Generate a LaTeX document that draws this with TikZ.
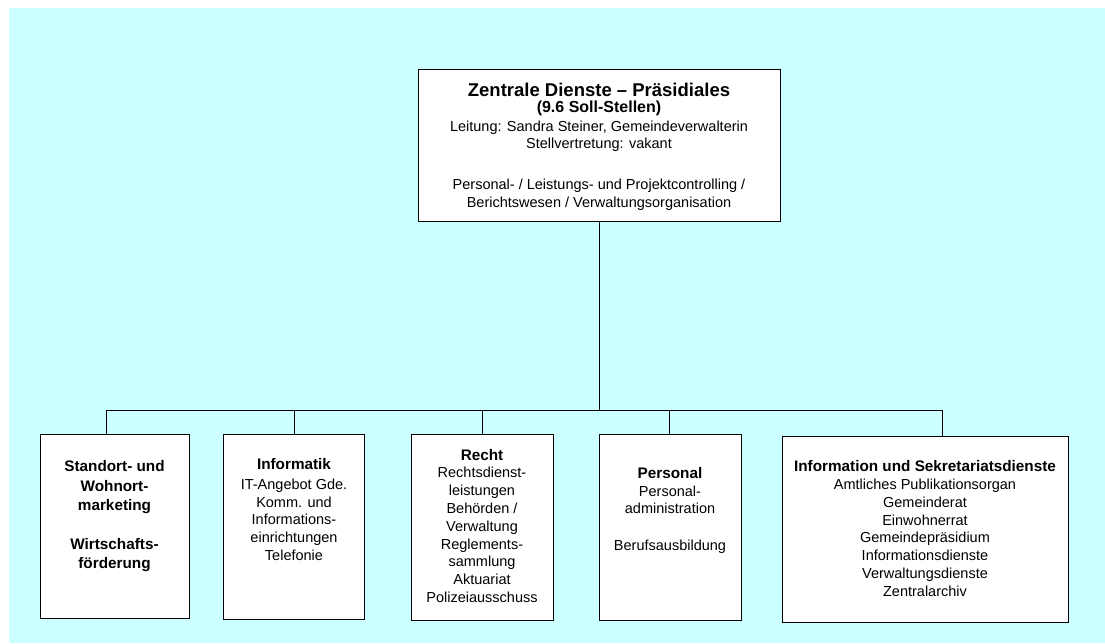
\documentclass[tikz,border=0pt]{standalone}
\usepackage{fontspec}
\setmainfont{Liberation Sans}
\definecolor{paleaqua}{HTML}{CCFFFF}
\newcommand\linestack[1]{\begin{tabular}[t]{@{}c@{}}#1\end{tabular}}
\newcommand\hd[1]{{\fontsize{15.3}{17.8}\selectfont\bfseries #1}}
\tikzset{
  orgbox/.style={draw=black, line width=1pt, fill=white, inner sep=0pt},
  conn/.style={draw=black, line width=1pt},
  body/.style={inner sep=0pt, anchor=base, font=\fontsize{14.5}{17.8}\selectfont},
  titlefont/.style={inner sep=0pt, anchor=base, font=\fontsize{18.5}{20}\selectfont\bfseries},
  subfont/.style={inner sep=0pt, anchor=base, font=\fontsize{16}{18}\selectfont\bfseries},
}
\begin{document}
\begin{tikzpicture}[x=1pt, y=-1pt]
  % canvas and coloured backdrop
  \useasboundingbox (0,0) rectangle (1105,643);
  \fill[white] (0,0) rectangle (1105,643);
  \fill[paleaqua] (9,8) rectangle (1105,643);

  % head of the department
  \node[orgbox, minimum width=362pt, minimum height=152pt] (top) at (599,145) {};
  \node[titlefont] (t1) at (599,96.5) {Zentrale Dienste – Präsidiales};
  \node[subfont]   (t2) at (599,112.5) {(9.6 Soll-Stellen)};
  \node[body]      (t3) at (599,131) {Leitung: Sandra Steiner, Gemeindeverwalterin};
  \node[body]      (t4) at (599,148.3) {Stellvertretung: vakant};
  \node[body]      (t5) at (599,189) {Personal- / Leistungs- und Projektcontrolling /};
  \node[body]      (t6) at (599,207) {Berichtswesen / Verwaltungsorganisation};

  % sections
  \node[orgbox, minimum width=149pt, minimum height=184pt] (b1) at (114.5,526) {};
  \node[orgbox, minimum width=141pt, minimum height=185pt] (b2) at (294,526.5) {};
  \node[orgbox, minimum width=142pt, minimum height=186pt] (b3) at (482,527) {};
  \node[orgbox, minimum width=142pt, minimum height=186pt] (b4) at (670,527) {};
  \node[orgbox, minimum width=286pt, minimum height=186pt] (b5) at (925,529) {};

  \node[body] (s1) at (114.5,471.7) {\linestack{\hd{Standort- und}\\[2pt]
      \hd{Wohnort-}\\[1.5pt] \hd{marketing}\\[21pt] \hd{Wirtschafts-}\\[1.5pt] \hd{förderung}}};
  \node[body] (s2) at (294,469) {\linestack{\hd{Informatik}\\[2.5pt]
      IT-Angebot Gde.\\ Komm. und\\ Informations-\\ einrichtungen\\ Telefonie}};
  \node[body] (s3) at (482,460) {\linestack{\hd{Recht}\\ Rechtsdienst-\\ leistungen\\
      Behörden /\\ Verwaltung\\ Reglements-\\ sammlung\\ Aktuariat\\ Polizeiausschuss}};
  \node[body] (s4) at (670,478.3) {\linestack{\hd{Personal}\\ Personal-\\ administration\\[19pt]
      Berufsausbildung}};
  \node[body] (s5) at (925,471.7) {\linestack{\hd{Information und Sekretariatsdienste}\\
      Amtliches Publikationsorgan\\ Gemeinderat\\ Einwohnerrat\\ Gemeindepräsidium\\
      Informationsdienste\\ Verwaltungsdienste\\ Zentralarchiv}};

  % connectors
  \coordinate (j1) at (106,410);
  \coordinate (j4) at (669,410);
  \coordinate (j5) at (942,410);
  \draw[conn] (j1) -- (j5);
  \draw[conn] (top.south) -- (top.south |- j1);
  \draw[conn] (j1) -- (j1 |- b1.north);
  \draw[conn] (b2.north |- j1) -- (b2.north);
  \draw[conn] (b3.north |- j1) -- (b3.north);
  \draw[conn] (j4) -- (j4 |- b4.north);
  \draw[conn] (j5) -- (j5 |- b5.north);
\end{tikzpicture}
\end{document}
